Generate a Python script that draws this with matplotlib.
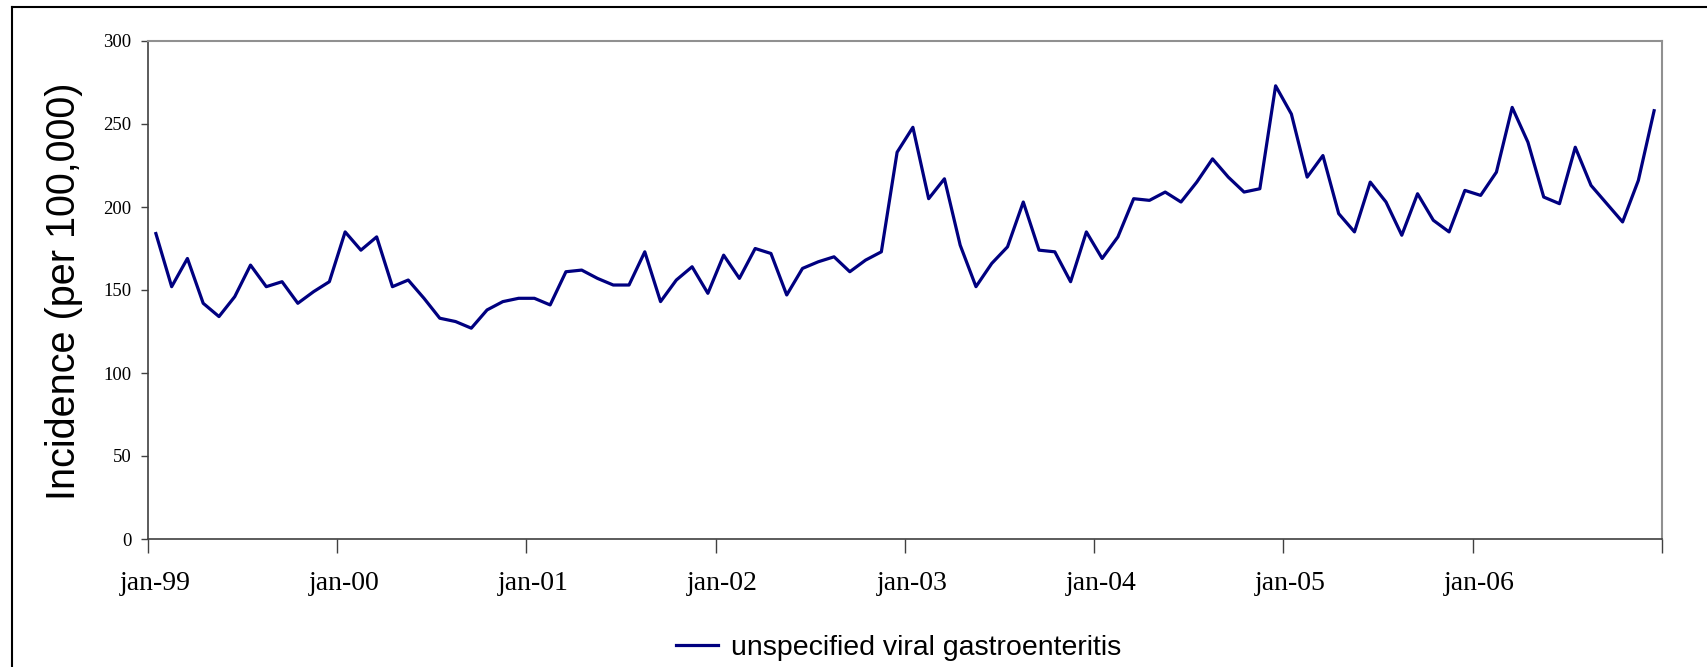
#!/usr/bin/env python3
"""Monthly incidence of unspecified viral gastroenteritis, 1999-2006."""

import matplotlib
matplotlib.use("Agg")
import matplotlib.pyplot as plt
import matplotlib.transforms as mtransforms
from matplotlib.lines import Line2D

# monthly values, jan-99 .. dec-06 (per 100,000)
incidence = [
    184, 152, 169, 142, 134, 146, 165, 152, 155, 142, 149, 155,   # 1999
    185, 174, 182, 152, 156, 145, 133, 131, 127, 138, 143, 145,   # 2000
    145, 141, 161, 162, 157, 153, 153, 173, 143, 156, 164, 148,   # 2001
    171, 157, 175, 172, 147, 163, 167, 170, 161, 168, 173, 233,   # 2002
    248, 205, 217, 177, 152, 166, 176, 203, 174, 173, 155, 185,   # 2003
    169, 182, 205, 204, 209, 203, 215, 229, 218, 209, 211, 273,   # 2004
    256, 218, 231, 196, 185, 215, 203, 183, 208, 192, 185, 210,   # 2005
    207, 221, 260, 239, 206, 202, 236, 213, 202, 191, 216, 258,   # 2006
]
year_labels = ["jan-99", "jan-00", "jan-01", "jan-02",
               "jan-03", "jan-04", "jan-05", "jan-06", ""]
series_name = "unspecified viral gastroenteritis"
y_ticks = [0, 50, 100, 150, 200, 250, 300]

W, H, DPI = 1708, 667, 100
fig = plt.figure(figsize=(W / DPI, H / DPI), dpi=DPI)
ax = fig.add_axes([148 / W, 1 - 539 / H, (1662 - 148) / W, (539 - 41) / H])

months = list(range(len(incidence)))
ax.plot(months, incidence, color="#000080", linewidth=2.3, label=series_name)

# category axis: ticks between months, one per year
ax.set_xlim(-0.5, len(incidence) - 0.5)
ax.set_xticks([-0.5 + 12 * k for k in range(len(year_labels))])
ax.set_xticklabels(year_labels, fontfamily="Liberation Serif", fontsize=20)
ax.tick_params(axis="x", direction="out", length=10, width=1,
               color="#404040", pad=13)
shift = mtransforms.ScaledTranslation(7 / DPI, 0, fig.dpi_scale_trans)
for lbl in ax.get_xticklabels():
    lbl.set_transform(lbl.get_transform() + shift)

ax.set_ylim(0, 300)
ax.set_yticks(y_ticks)
ax.set_yticklabels([str(v) for v in y_ticks],
                   fontfamily="Liberation Serif", fontsize=13.5)
ax.tick_params(axis="y", direction="out", length=5, width=1,
               color="#404040", pad=7)

ax.set_ylabel("Incidence (per 100,000)", fontfamily="Liberation Sans",
              fontsize=28.5, va="baseline")
ax.yaxis.set_label_coords(75 / W, 1 - 291 / H, transform=fig.transFigure)

for side in ("left", "bottom"):
    ax.spines[side].set_color("#404040")
    ax.spines[side].set_linewidth(1.2)
for side in ("top", "right"):
    ax.spines[side].set_color("#909090")
    ax.spines[side].set_linewidth(1.5)

fig.legend(loc="center", bbox_to_anchor=(0.526, 1 - 648 / H),
           frameon=False, handlelength=1.5, handletextpad=0.45,
           prop={"family": "Liberation Sans", "size": 20.5})

# outer chart border (only top and left edges show)
fig.add_artist(Line2D([12 / W, 1], [1 - 7 / H, 1 - 7 / H],
                      transform=fig.transFigure, color="black", linewidth=1.5))
fig.add_artist(Line2D([12 / W, 12 / W], [0, 1 - 7 / H],
                      transform=fig.transFigure, color="black", linewidth=1.5))

fig.savefig("out.png", dpi=DPI)
